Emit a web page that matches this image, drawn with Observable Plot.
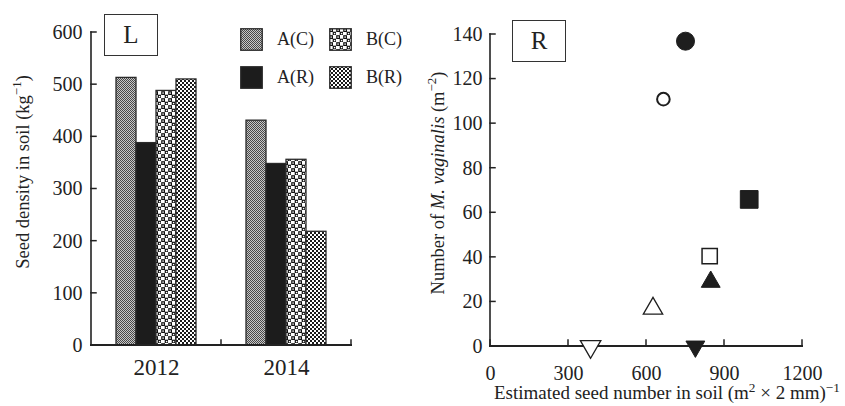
<!DOCTYPE html>
<html>
<head>
<meta charset="utf-8">
<script src="https://cdn.jsdelivr.net/npm/d3@7"></script>
<script src="https://cdn.jsdelivr.net/npm/@observablehq/plot@0.6"></script>
<style>
  body { margin: 0; background: #fff; }
  #wrap { position: relative; width: 845px; height: 406px; font-family: "Liberation Serif", serif; color: #222; overflow: hidden; }
  #wrap svg, #wrap svg text { font-family: "Liberation Serif", serif !important; }
  .abs { position: absolute; }
  .ytitle { position: absolute; white-space: nowrap; font-size: 18.5px; transform: translate(-50%, -50%) rotate(-90deg); }
  .box { position: absolute; border: 1.5px solid #333; box-sizing: border-box; font-size: 25px; display: flex; align-items: center; justify-content: center; background: #fff; }
  .leg { position: absolute; font-size: 18px; line-height: 22px; }
  sup { font-size: 0.7em; line-height: 0; }
</style>
</head>
<body>
<div id="wrap">
  <svg width="0" height="0" style="position:absolute">
    <defs>
      <pattern id="pAC" width="2" height="2" patternUnits="userSpaceOnUse">
        <rect width="2" height="2" fill="#c8c8c8"/>
        <rect x="0" y="0" width="1" height="1" fill="#484848"/>
        <rect x="1" y="1" width="1" height="1" fill="#484848"/>
      </pattern>
      <pattern id="pAR" width="4" height="4" patternUnits="userSpaceOnUse">
        <rect width="4" height="4" fill="#1c1c1c"/>
      </pattern>
      <pattern id="pBC" width="7" height="7" patternUnits="userSpaceOnUse">
        <rect width="7" height="7" fill="#fff"/>
        <rect x="0.8" y="0.8" width="2.6" height="2.6" fill="#fff" stroke="#111" stroke-width="1.2"/>
        <rect x="4.3" y="4.3" width="2.6" height="2.6" fill="#fff" stroke="#111" stroke-width="1.2"/>
      </pattern>
      <pattern id="pBR" width="4" height="4" patternUnits="userSpaceOnUse">
        <rect width="4" height="4" fill="#fff"/>
        <rect x="0" y="0" width="2" height="2" fill="#1a1a1a"/>
        <rect x="2" y="2" width="2" height="2" fill="#1a1a1a"/>
      </pattern>
    </defs>
  </svg>
  <div id="left" class="abs" style="left:0;top:0"></div>
  <div id="right" class="abs" style="left:420px;top:0"></div>

  <div class="box" style="left:104px;top:14px;width:54px;height:42px">L</div>
  <div class="box" style="left:512px;top:20px;width:54px;height:42px">R</div>

  <div class="ytitle" style="left:23px;top:172px">Seed density in soil (kg<sup>−1</sup>)</div>
  <div class="ytitle" style="left:438px;top:183px">Number of <i>M. vaginalis</i> (m<sup>−2</sup>)</div>
  <div class="abs" style="left:667px;top:393px;transform:translate(-50%,-50%);white-space:nowrap;font-size:19px">Estimated seed number in soil (m<sup>2</sup> × 2 mm)<sup>−1</sup></div>

  <div id="legend"></div>
</div>
<script>
// ---------------- data ----------------
const years = ["2012", "2014"];
const series = ["A(C)", "A(R)", "B(C)", "B(R)"];
const density2012 = [513, 388, 488, 510];
const density2014 = [431, 348, 356, 218];
const yTicksLeft = [0, 100, 200, 300, 400, 500, 600];

const seedNumber = [750, 665, 995, 843, 847, 625, 385, 788];
const plantNumber = [137, 111, 66, 40.5, 29, 17, 0, 0];
const pointKind = ["circle-filled", "circle-open", "square-filled", "square-open",
                   "triangle-filled", "triangle-open", "down-open", "down-filled"];
const xTicksRight = [0, 300, 600, 900, 1200];
const yTicksRight = [0, 20, 40, 60, 80, 100, 120, 140];

// ---------------- styles ----------------
const patternOf = {"A(C)": "url(#pAC)", "A(R)": "url(#pAR)", "B(C)": "url(#pBC)", "B(R)": "url(#pBR)"};
const ink = "#1e1e1e";
const serif = "'Liberation Serif', serif";
const markerStyle = {
  "circle-filled":   {symbol: "circle",   r: 9,   fill: ink,    strokeWidth: 1,   rotate: 0},
  "circle-open":     {symbol: "circle",   r: 6.3, fill: "#fff", strokeWidth: 2,   rotate: 0},
  "square-filled":   {symbol: "square",   r: 10,  fill: ink,    strokeWidth: 1,   rotate: 0},
  "square-open":     {symbol: "square",   r: 8.6, fill: "#fff", strokeWidth: 1.5, rotate: 0},
  "triangle-filled": {symbol: "triangle", r: 7,   fill: ink,    strokeWidth: 1,   rotate: 0},
  "triangle-open":   {symbol: "triangle", r: 7.2, fill: "#fff", strokeWidth: 1.3, rotate: 0},
  "down-open":       {symbol: "triangle", r: 7.6, fill: "#fff", strokeWidth: 1.3, rotate: 180},
  "down-filled":     {symbol: "triangle", r: 7,   fill: ink,    strokeWidth: 1,   rotate: 180}
};

const bars = years.flatMap((yr, i) => series.map((s, j) => ({
  year: yr, series: s, value: [density2012, density2014][i][j]
})));
const points = seedNumber.map((x, i) => ({x, y: plantNumber[i], kind: pointKind[i]}));

const baseStyle = {fontFamily: serif, color: "#222", background: "transparent", overflow: "visible"};

function line(svg, x1, y1, x2, y2, w = 1.6) {
  d3.select(svg).append("line")
    .attr("x1", x1).attr("y1", y1).attr("x2", x2).attr("y2", y2)
    .attr("stroke", "#222").attr("stroke-width", w).attr("stroke-linecap", "square");
}

// ---------------- left panel ----------------
const left = Plot.plot({
  width: 420, height: 406,
  marginLeft: 91, marginRight: 69, marginTop: 32, marginBottom: 61,
  style: baseStyle,
  fx: {domain: years, padding: 0, label: null},
  x: {domain: series, paddingInner: 0, paddingOuter: 1.1, axis: null},
  y: {domain: [0, 600], label: null},
  color: {domain: series, range: series.map(s => patternOf[s])},
  marks: [
    Plot.barY(bars, {fx: "year", x: "series", y: "value", fill: "series", stroke: "#2a2a2a", strokeWidth: 1.3}),
    Plot.axisY(yTicksLeft, {tickSize: 0, tickPadding: 9, fontSize: 20, fontFamily: serif, label: null}),
    Plot.axisFx({anchor: "bottom", tickSize: 0, tickPadding: 13, fontSize: 23, fontFamily: serif, label: null})
  ]
});
document.getElementById("left").appendChild(left);
{
  const y = left.scale("y"), fx = left.scale("fx");
  const x0 = fx.apply(years[0]);
  const xEnd = fx.apply(years[years.length - 1]) + fx.bandwidth;
  const y0 = y.apply(0);
  line(left, x0, y0, xEnd, y0, 2);
  line(left, x0, y0, x0, y.apply(600), 1.6);
  yTicksLeft.forEach(t => line(left, x0, y.apply(t), x0 + 5, y.apply(t), 1.5));
  years.forEach(yr => { const b = fx.apply(yr) + fx.bandwidth; line(left, b, y0, b, y0 - 5, 1.5); });
}

// ---------------- right panel ----------------
const right = Plot.plot({
  width: 425, height: 406,
  marginLeft: 70, marginRight: 43, marginTop: 34, marginBottom: 60,
  style: baseStyle,
  x: {domain: [0, 1200], label: null},
  y: {domain: [0, 140], label: null},
  marks: [
    Plot.axisY(yTicksRight, {tickSize: 0, tickPadding: 8, fontSize: 20, fontFamily: serif, tickFormat: d => String(d), label: null}),
    Plot.axisX(xTicksRight, {tickSize: 0, tickPadding: 19, fontSize: 20, fontFamily: serif, tickFormat: d => String(d), label: null}),
    ...Object.keys(markerStyle).map(k => {
      const s = markerStyle[k];
      return Plot.dot(points, {filter: d => d.kind === k, x: "x", y: "y",
        symbol: s.symbol, r: s.r, fill: s.fill, stroke: ink, strokeWidth: s.strokeWidth, rotate: s.rotate});
    })
  ]
});
document.getElementById("right").appendChild(right);
{
  const x = right.scale("x"), y = right.scale("y");
  const x0 = x.apply(0), y0 = y.apply(0);
  line(right, x0, y0, x.apply(1200), y0, 2);
  line(right, x0, y0, x0, y.apply(140), 1.6);
  yTicksRight.forEach(t => line(right, x0, y.apply(t), x0 + 5, y.apply(t), 1.5));
  xTicksRight.forEach(t => line(right, x.apply(t), y0, x.apply(t), y0 - 6, 1.5));
  d3.select(right).selectAll("g[aria-label='dot']").raise();
}

// ---------------- legend ----------------
const legendPos = [[240, 28], [240, 66], [329, 28], [329, 66]];
const legendOrder = ["A(C)", "A(R)", "B(C)", "B(R)"];
const legend = d3.select("#legend");
legendOrder.forEach((s, i) => {
  const [lx, ly] = legendPos[i];
  const sw = legend.append("svg").attr("class", "abs").style("left", lx + "px").style("top", ly + "px")
    .attr("width", 23).attr("height", 23);
  sw.append("rect").attr("x", 0.75).attr("y", 0.75).attr("width", 21.5).attr("height", 21.5)
    .attr("fill", patternOf[s]).attr("stroke", "#2a2a2a").attr("stroke-width", 1.3);
  legend.append("div").attr("class", "leg").style("left", (lx + 37) + "px").style("top", (ly) + "px").text(s);
});
</script>
</body>
</html>
